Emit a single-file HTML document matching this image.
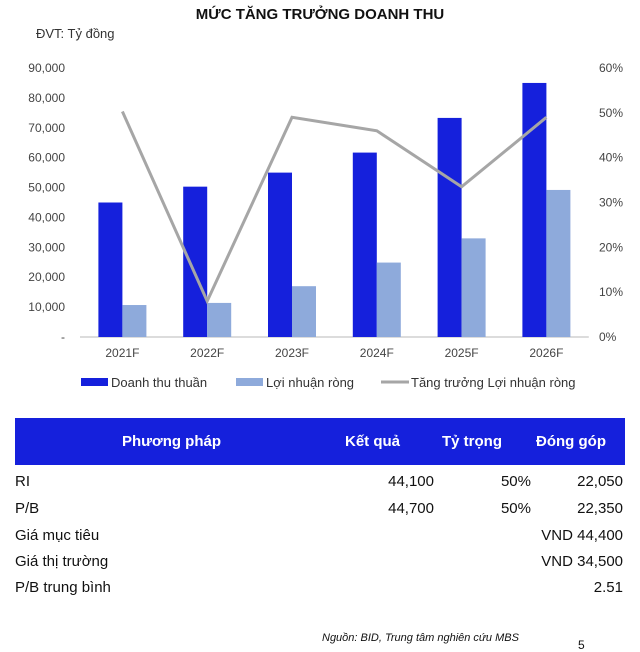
<!DOCTYPE html>
<html><head><meta charset="utf-8"><style>
body{margin:0;width:640px;height:649px;background:#fff;font-family:"Liberation Sans","DejaVu Sans",sans-serif;position:relative;overflow:hidden;color:#111}
.abs{position:absolute;white-space:nowrap}
.row{position:absolute;left:15px;width:610px;height:24px;font-size:15px}
.row span{position:absolute;top:0}
</style></head><body>
<div class="abs" style="left:0;width:640px;text-align:center;top:6px;font-size:15px;font-weight:bold">MỨC TĂNG TRƯỞNG DOANH THU</div>
<div class="abs" style="left:36px;top:26px;font-size:13px;color:#333">ĐVT: Tỷ đồng</div>
<svg id="chart" style="position:absolute;left:0;top:0" width="640" height="400"></svg>
<div style="position:absolute;left:15px;top:418px;width:610px;height:47px;background:#1520dc;color:#fff;font-weight:bold;font-size:15px">
<span class="abs" style="left:107px;top:15px">Phương pháp</span>
<span class="abs" style="left:330px;top:15px">Kết quả</span>
<span class="abs" style="left:427px;top:15px">Tỷ trọng</span>
<span class="abs" style="left:521px;top:15px">Đóng góp</span>
</div>
<div class="row" style="top:473px"><span style="left:0">RI</span><span style="right:191px">44,100</span><span style="right:94px">50%</span><span style="right:2px">22,050</span></div>
<div class="row" style="top:500px"><span style="left:0">P/B</span><span style="right:191px">44,700</span><span style="right:94px">50%</span><span style="right:2px">22,350</span></div>
<div class="row" style="top:527px"><span style="left:0">Giá mục tiêu</span><span style="right:2px">VND 44,400</span></div>
<div class="row" style="top:553px"><span style="left:0">Giá thị trường</span><span style="right:2px">VND 34,500</span></div>
<div class="row" style="top:579px"><span style="left:0">P/B trung bình</span><span style="right:2px">2.51</span></div>
<div class="abs" style="left:322px;top:632px;font-size:11px;font-style:italic">Nguồn: BID, Trung tâm nghiên cứu MBS</div>
<div class="abs" style="left:578px;top:638px;font-size:12px">5</div>
<script>
const categories=["2021F","2022F","2023F","2024F","2025F","2026F"];
const revenue=[45000,50300,55000,61700,73300,85000];
const profit=[10700,11400,17000,24900,33000,49200];
const growth=[50.3,8,49,46,33.5,49];
const leftTicks=["-","10,000","20,000","30,000","40,000","50,000","60,000","70,000","80,000","90,000"];
const rightTicks=["0%","10%","20%","30%","40%","50%","60%"];
const svg=document.getElementById('chart');const NS="http://www.w3.org/2000/svg";
const y0=337,y1=68,x0=80,step=84.8;
const yL=v=>y0-(v/90000)*(y0-y1);
const yR=v=>y0-(v/60)*(y0-y1);
const xC=i=>x0+step*(i+0.5);
function mk(t,a,txt){const e=document.createElementNS(NS,t);for(const k in a)e.setAttribute(k,a[k]);if(txt!=null)e.textContent=txt;svg.appendChild(e);return e;}
leftTicks.forEach((t,i)=>{const e=mk('text',{x:65,y:yL(i*10000)+4,'text-anchor':'end','font-size':12,fill:'#444','font-family':'Liberation Sans'},t);
});
rightTicks.forEach((t,i)=>{const e=mk('text',{x:599,y:yR(i*10)+4,'text-anchor':'start','font-size':12,fill:'#444','font-family':'Liberation Sans'},t);
});
const ax=mk('line',{x1:x0,x2:x0+step*6,y1:y0,y2:y0,stroke:'#d0d0d0','stroke-width':1.5});

categories.forEach((c,i)=>{
const b=mk('rect',{x:xC(i)-24,y:yL(revenue[i]),width:24,height:y0-yL(revenue[i]),fill:'#1520dc'});

const p=mk('rect',{x:xC(i),y:yL(profit[i]),width:24,height:y0-yL(profit[i]),fill:'#8eaadb'});

const l=mk('text',{x:xC(i),y:357,'text-anchor':'middle','font-size':12,fill:'#444','font-family':'Liberation Sans'},c);

});
const ln=mk('polyline',{points:growth.map((g,i)=>xC(i)+','+yR(g)).join(' '),fill:'none',stroke:'#a6a6a6','stroke-width':3});

const leg=[["rect","#1520dc","Doanh thu thuần",81],["rect","#8eaadb","Lợi nhuận ròng",236],["line","#a6a6a6","Tăng trưởng Lợi nhuận ròng",381]];
leg.forEach(([k,c,t,x])=>{
if(k==='rect'){const r=mk('rect',{x:x,y:378,width:27,height:8,fill:c});}
else{const r=mk('line',{x1:x,x2:x+28,y1:382,y2:382,stroke:c,'stroke-width':3});}
const e=mk('text',{x:x+30,y:387,'font-size':13,fill:'#333','font-family':'Liberation Sans'},t);

});
</script>
</body></html>
